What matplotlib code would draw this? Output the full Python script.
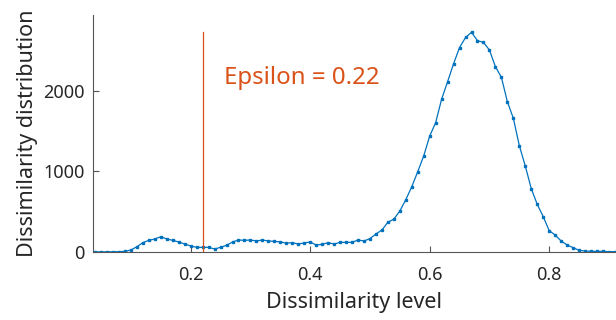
import numpy as np
import matplotlib
matplotlib.use("Agg")
import matplotlib.pyplot as plt

plt.rcParams['font.family'] = ['Noto Sans', 'DejaVu Sans']

# dissimilarity levels (0.04 ... 0.91) and counts
level = np.arange(4, 92) / 100.0
counts = [2, 1, 2, 3, 4, 8, 25, 66, 116, 145,
          161, 190, 161, 145, 124, 99, 75, 58, 58, 58,
          37, 58, 83, 124, 149, 145, 149, 137, 149, 137,
          132, 126, 110, 116, 99, 112, 124, 87, 95, 116,
          99, 120, 120, 120, 149, 137, 166, 224, 273, 370,
          408, 509, 650, 811, 998, 1193, 1441, 1607, 1900, 2116,
          2340, 2540, 2665, 2729, 2625, 2604, 2509, 2302, 2170, 1867,
          1661, 1321, 1068, 786, 592, 439, 265, 211, 137, 87,
          54, 21, 12, 8, 8, 8, 4, 4]
epsilon = 0.22

blue = '#0072BD'
orange = '#D95319'
axcol = '#555555'
txtcol = '#262626'

fig = plt.figure(figsize=(6.16, 3.2), dpi=100)
ax = fig.add_axes([93 / 616, 1 - 252 / 320, 523 / 616, 237 / 320])

ax.plot(level, counts, '-', color=blue, lw=0.9, marker='s', ms=2.0, mec=blue, mfc=blue)
ax.plot([epsilon, epsilon], [0, max(counts)], color=orange, lw=0.9)
ax.text(0.2555, 2161, 'Epsilon = 0.22', color=orange, fontsize=17.3, va='center', ha='left')

ax.set_xlim(0.0365, 0.9118)
ax.set_ylim(0, 2944)
ax.set_xticks([0.2, 0.4, 0.6, 0.8])
ax.set_xticklabels(['0.2', '0.4', '0.6', '0.8'])
ax.set_yticks([0, 1000, 2000])

for s in ['top', 'right']:
    ax.spines[s].set_visible(False)
for s in ['left', 'bottom']:
    ax.spines[s].set_color(axcol)
    ax.spines[s].set_linewidth(0.8)
ax.tick_params(direction='in', length=4, width=0.8, color=axcol, labelcolor=txtcol,
               labelsize=13)
ax.tick_params(axis='x', pad=10)
ax.tick_params(axis='y', pad=6)

ax.set_xlabel('Dissimilarity level', fontsize=15.5, color=txtcol, labelpad=6)
ax.set_ylabel('Dissimilarity distribution', fontsize=15.5, color=txtcol, labelpad=4)

fig.savefig('out.png', dpi=100)
